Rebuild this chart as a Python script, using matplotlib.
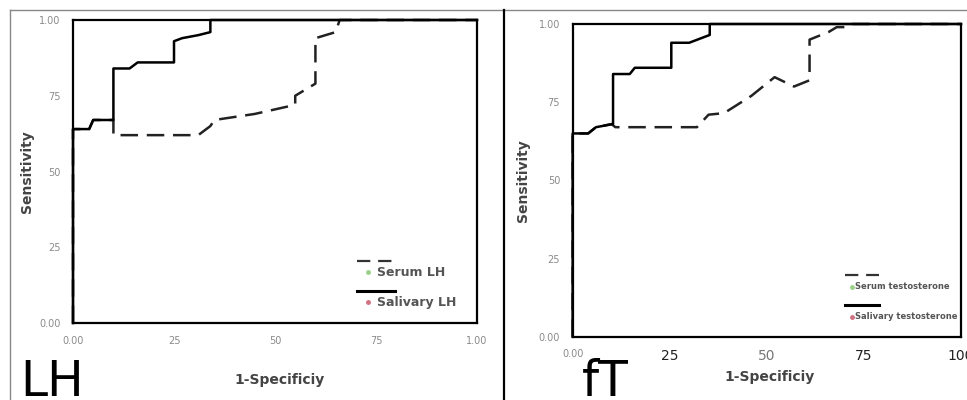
#!/usr/bin/env python3
import matplotlib
matplotlib.use('Agg')
import matplotlib.pyplot as plt
from matplotlib.lines import Line2D

## ROC curves (1-specificity, sensitivity)
lh_salivary_x = [0.0, 0.0, 0.04, 0.05, 0.10, 0.10, 0.14, 0.16, 0.25, 0.25, 0.27, 0.31, 0.34, 0.34, 1.0]
lh_salivary_y = [0.0, 0.64, 0.64, 0.67, 0.67, 0.84, 0.84, 0.86, 0.86, 0.93, 0.94, 0.95, 0.96, 1.0, 1.0]
lh_serum_x = [0.0, 0.0, 0.04, 0.05, 0.10, 0.10, 0.31, 0.34, 0.35, 0.40, 0.45, 0.55, 0.55, 0.60, 0.60, 0.65, 0.66, 1.0]
lh_serum_y = [0.0, 0.64, 0.64, 0.67, 0.67, 0.62, 0.62, 0.65, 0.67, 0.68, 0.69, 0.72, 0.75, 0.79, 0.94, 0.96, 1.0, 1.0]

ft_salivary_x = [0.0, 0.0, 0.04, 0.06, 0.104, 0.104, 0.147, 0.16, 0.254, 0.254, 0.30, 0.353, 0.353, 1.0]
ft_salivary_y = [0.0, 0.65, 0.65, 0.67, 0.68, 0.84, 0.84, 0.86, 0.86, 0.94, 0.94, 0.965, 1.0, 1.0]
ft_serum_x = [0.0, 0.0, 0.04, 0.06, 0.10, 0.11, 0.32, 0.35, 0.39, 0.46, 0.52, 0.57, 0.61, 0.61, 0.66, 0.68, 0.71, 0.72, 1.0]
ft_serum_y = [0.0, 0.65, 0.65, 0.67, 0.68, 0.67, 0.67, 0.71, 0.715, 0.77, 0.83, 0.80, 0.82, 0.95, 0.975, 0.99, 0.99, 1.0, 1.0]

tick_pos = [0.0, 0.25, 0.5, 0.75, 1.0]
lh_xtick_labels = ['0.00', '25', '50', '75', '1.00']
ft_xtick_labels = ['0.00', '25', '50', '75', '100']
ytick_labels = ['0.00', '25', '50', '75', '1.00']

GRAY = '#8a8a8a'
DASHES = (7, 3.5)


def setup_axes(ax, xlabels, ylabels):
    ax.set_xlim(0, 1)
    ax.set_ylim(0, 1)
    for sp in ax.spines.values():
        sp.set_linewidth(1.6)
        sp.set_color('black')
    ax.set_xticks(tick_pos)
    ax.set_yticks(tick_pos)
    ax.set_xticklabels(xlabels)
    ax.set_yticklabels(ylabels)
    ax.tick_params(length=0, labelsize=7, labelcolor=GRAY, pad=9)


def draw_legend(ax, x0, x1, y_dash, y_solid, dot_x, text_x, names, fsize, dy):
    ax.add_line(Line2D([x0, x1], [y_dash, y_dash], transform=ax.transAxes,
                       color='#333333', lw=1.6, dashes=(6, 3.5)))
    ax.add_line(Line2D([x0, x1], [y_solid, y_solid], transform=ax.transAxes,
                       color='black', lw=2.2))
    ax.plot([dot_x], [y_dash - dy], 'o', ms=2.5, color='#9bd08a', transform=ax.transAxes)
    ax.plot([dot_x], [y_solid - dy], 'o', ms=2.5, color='#d07080', transform=ax.transAxes)
    ax.text(text_x, y_dash - dy, names[0], transform=ax.transAxes, fontsize=fsize,
            fontweight='bold', color='#555555', va='center')
    ax.text(text_x, y_solid - dy, names[1], transform=ax.transAxes, fontsize=fsize,
            fontweight='bold', color='#555555', va='center')


fig = plt.figure(figsize=(9.67, 4.0), dpi=100)

## left pad: LH
ax1 = fig.add_axes([0.0755, 0.1925, 0.4178, 0.7575])
setup_axes(ax1, lh_xtick_labels, ytick_labels)
ax1.plot(lh_serum_x, lh_serum_y, color='#222222', lw=1.8, dashes=DASHES, clip_on=False)
ax1.plot(lh_salivary_x, lh_salivary_y, color='black', lw=1.8, clip_on=False)
ax1.set_ylabel('Sensitivity', fontsize=10, fontweight='bold', color='#444444', labelpad=4)
draw_legend(ax1, 0.703, 0.797, 0.205, 0.106, 0.730, 0.752,
            ('Serum LH', 'Salivary LH'), 9, 0.037)

## right pad: fT
ax2 = fig.add_axes([0.5922, 0.1583, 0.4016, 0.7817])
setup_axes(ax2, ft_xtick_labels, ytick_labels)
for lab in ax2.get_xticklabels()[1:]:
    lab.set_fontsize(10)
    lab.set_color('#222222')
ax2.get_xticklabels()[2].set_color('#777777')
ax2.plot(ft_serum_x, ft_serum_y, color='#222222', lw=1.8, dashes=DASHES, clip_on=False)
ax2.plot(ft_salivary_x, ft_salivary_y, color='black', lw=1.8, clip_on=False)
ax2.set_ylabel('Sensitivity', fontsize=10, fontweight='bold', color='#444444', labelpad=6)
draw_legend(ax2, 0.701, 0.79, 0.197, 0.101, 0.719, 0.728,
            ('Serum testosterone', 'Salivary testosterone'), 6, 0.038)

## x titles and panel tags
fig.text(280 / 967, 1 - 380 / 400, '1-Specificiy', fontsize=10, fontweight='bold',
         color='#444444', ha='center', va='center')
fig.text(770 / 967, 1 - 377 / 400, '1-Specificiy', fontsize=10, fontweight='bold',
         color='#444444', ha='center', va='center')
fig.text(20 / 967, 1 - 396 / 400, 'LH', fontsize=35, color='black', ha='left', va='baseline')
fig.text(582 / 967, 1 - 396 / 400, 'fT', fontsize=35, color='black', ha='left', va='baseline')

## frame lines
fig.add_artist(Line2D([10 / 967, 1], [1 - 9.5 / 400, 1 - 9.5 / 400], color='#888888', lw=1.0))
fig.add_artist(Line2D([10 / 967, 10 / 967], [0, 1 - 9.5 / 400], color='#888888', lw=1.0))
fig.add_artist(Line2D([504 / 967, 504 / 967], [0, 1 - 9.5 / 400], color='black', lw=1.6))

fig.savefig('out.png', dpi=100)
print('out.png generated')
